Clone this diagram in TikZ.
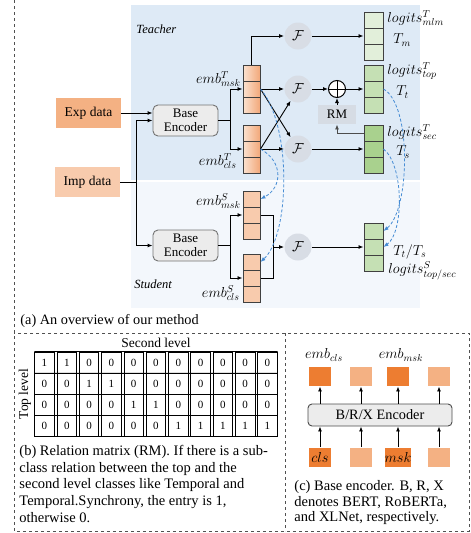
\documentclass[tikz,border=0pt]{standalone}
\usepackage{fontspec}
\setmainfont{Liberation Serif}
\usetikzlibrary{arrows,arrows.meta}
\usetikzlibrary{matrix}
\definecolor{teach}{RGB}{222,234,246}
\definecolor{stud}{RGB}{243,247,252}
\definecolor{expd}{RGB}{244,177,131}
\definecolor{impd}{RGB}{248,203,173}
\definecolor{embL}{RGB}{251,226,208}
\definecolor{embD}{RGB}{242,168,122}
\definecolor{gA}{RGB}{226,239,218}
\definecolor{gB}{RGB}{197,224,180}
\definecolor{gC}{RGB}{169,209,142}
\definecolor{fkreis}{RGB}{216,221,229}
\definecolor{rmbox}{RGB}{214,220,228}
\definecolor{encf}{RGB}{236,236,236}
\definecolor{kdblau}{RGB}{70,140,212}
\definecolor{dorange}{RGB}{237,125,49}
\definecolor{rahmen}{RGB}{80,80,80}

\begin{document}
\begin{tikzpicture}[x=1pt,y=-1pt,line width=0.9pt,
	pf/.style={-{Latex[length=5pt,width=4pt]}},
	kd/.style={kdblau,dash pattern=on 3pt off 2pt,line width=0.8pt,-{Latex[length=5pt,width=4pt]}},
	zelle/.style={draw=black!75,line width=1pt,minimum width=17pt,minimum height=16pt,inner sep=0pt},
	lzelle/.style={zelle,minimum width=19pt},
	enc/.style={draw=black!55,fill=encf,rounded corners=5pt,minimum width=65pt,minimum height=31pt,align=center,inner sep=1pt,font=\fontsize{13}{14.5}\selectfont},
	fk/.style={circle,fill=fkreis,minimum size=27pt,inner sep=0pt,font=\fontsize{15}{15}\selectfont},
	lbl/.style={inner sep=0pt,font=\fontsize{14}{14}\selectfont},
	capt/.style={inner sep=0pt,align=left,font=\fontsize{14.5}{16.6}\selectfont},
	quad/.style={minimum width=22pt,minimum height=19pt,inner sep=0pt,font=\fontsize{14}{14}\selectfont}] %Lehrer oben, Schueler unten
	\useasboundingbox (0,0) rectangle (471,533);
	\fill[teach] (131,5) rectangle (420,180);
	\fill[stud] (131,182) rectangle (420,308);
	\draw[rahmen,dashed,line width=1pt] (14,0) -- (14,531) -- (469,531) -- (469,333) -- (14,333);
	\draw[rahmen,dashed,line width=1pt] (285,333) -- (285,531);
	\node[anchor=west,inner sep=0pt,font=\itshape\fontsize{12.5}{12.5}\selectfont] (teacher) at (136,29) {Teacher};
	\node[anchor=west,inner sep=0pt,font=\itshape\fontsize{12.5}{12.5}\selectfont] (student) at (134,284) {Student};
	
	\node[fill=expd,minimum width=65pt,minimum height=30pt,font=\fontsize{13.5}{13.5}\selectfont] (exp) at (88.5,113) {Exp data};
	\node[fill=impd,minimum width=65pt,minimum height=30pt,font=\fontsize{13.5}{13.5}\selectfont] (imp) at (87.5,182) {Imp data};
	\node[enc] (encT) at (185.5,120.5) {Base\\Encoder};
	\node[enc] (encS) at (185.5,245.5) {Base\\Encoder};
	\draw[pf] (exp.east) -- (exp.east -| encT.west);
	\draw (imp.east) -- (136,182) coordinate (j);
	\draw[pf] (j) |- (encT.west);
	\draw[pf] (j) |- (encS.west);
	
	\node[zelle,left color=embL,right color=embD] (mT1) at (251.5,73) {};
	\node[zelle,left color=embL,right color=embD] (mT2) at (251.5,89) {};
	\node[zelle,left color=embL,right color=embD] (mT3) at (251.5,105) {};
	\node[zelle,left color=embL,right color=embD] (cT1) at (251.5,133) {};
	\node[zelle,left color=embL,right color=embD] (cT2) at (251.5,149) {};
	\node[zelle,left color=embL,right color=embD] (cT3) at (251.5,165) {};
	\node[zelle,fill=impd] (mS1) at (251.5,199) {};
	\node[zelle,fill=impd] (mS2) at (251.5,215) {};
	\node[zelle,fill=impd] (mS3) at (251.5,231) {};
	\node[zelle,fill=impd] (cS1) at (251.5,262) {};
	\node[zelle,fill=impd] (cS2) at (251.5,278) {};
	\node[zelle,fill=impd] (cS3) at (251.5,294) {};
	\node[lbl,anchor=east] (emT) at (241,79) {$emb^T_{msk}$};
	\node[lbl,anchor=east] (ecT) at (237,161) {$emb^T_{cls}$};
	\node[lbl,anchor=east] (emS) at (241,201) {$emb^S_{msk}$};
	\node[lbl,anchor=east] (ecS) at (240,293) {$emb^S_{cls}$};
	
	\draw (encT.east) -- (230,120.5) coordinate (sT);
	\draw[pf] (sT) |- (mT2.west);
	\draw[pf] (sT) |- (cT2.west);
	\draw (encS.east) -- (230,245.5) coordinate (sS);
	\draw[pf] (sS) |- (mS2.west);
	\draw[pf] (sS) |- (cS2.west);
	
	\node[fk] (F1) at (298,36) {$\mathcal{F}$};
	\node[fk] (F2) at (298,89) {$\mathcal{F}$};
	\node[fk] (F3) at (298,149) {$\mathcal{F}$};
	\node[fk] (F4) at (298,247) {$\mathcal{F}$};
	\draw[pf] (mT1.north) |- (F1.west);
	\draw[pf] (mT2.east) -- (F2.west);
	\draw[pf] (cT2.east) -- (F3.west);
	\draw[pf] (mT2.east) -- (F3);
	\draw[pf] (cT2.east) -- (F2);
	\draw (mS2.east) -- (273,215) coordinate (mr);
	\draw (cS2.east) -| (mr);
	\draw[pf] (mr |- F4) -- (F4.west);
	
	\node[lzelle,fill=gA] (lm1) at (373.5,20) {};
	\node[lzelle,fill=gA] (lm2) at (373.5,36) {};
	\node[lzelle,fill=gA] (lm3) at (373.5,52) {};
	\node[lzelle,fill=gB] (lt1) at (373.5,73) {};
	\node[lzelle,fill=gB] (lt2) at (373.5,89) {};
	\node[lzelle,fill=gB] (lt3) at (373.5,105) {};
	\node[lzelle,fill=gC] (ls1) at (373.5,133) {};
	\node[lzelle,fill=gC] (ls2) at (373.5,149) {};
	\node[lzelle,fill=gC] (ls3) at (373.5,165) {};
	\node[lzelle,fill=gB] (lS1) at (373.5,231) {};
	\node[lzelle,fill=gB] (lS2) at (373.5,247) {};
	\node[lzelle,fill=gB] (lS3) at (373.5,263) {};
	\node[lbl,anchor=west] (lgm) at (387,18) {$logits^T_{mlm}$};
	\node[lbl,anchor=west] (Tm) at (393,40) {$T_m$};
	\node[lbl,anchor=west] (lgt) at (387,71) {$logits^T_{top}$};
	\node[lbl,anchor=west] (Tt) at (396,92) {$T_t$};
	\node[lbl,anchor=west] (lgs) at (387,132) {$logits^T_{sec}$};
	\node[lbl,anchor=west] (Ts) at (396,152) {$T_s$};
	\node[lbl,anchor=west] (TtTs) at (393,252) {$T_t/T_s$};
	\node[lbl,anchor=west] (lgS) at (388,271) {$logits^S_{top/sec}$};
	
	\node[draw,circle,fill=white,minimum size=17pt,inner sep=0pt,line width=1pt] (op) at (337,89) {};
	\draw[line width=1pt] (op.north) -- (op.south) (op.west) -- (op.east);
	\node[fill=rmbox,minimum width=38pt,minimum height=19pt,font=\fontsize{13}{13}\selectfont] (RM) at (337,114.5) {RM};
	\draw[pf] (F1.east) -- (lm2.west);
	\draw[pf] (F2.east) -- (op.west);
	\draw[pf] (op.east) -- (lt2.west);
	\draw[pf] (RM.north) -- (op.south);
	\draw[pf,black!70] (ls1.west) -| (RM.south);
	\draw[pf] (F3.east) -- (ls2.west);
	\draw[pf] (F4.east) -- (lS2.west);
	
	\draw[kd] (mT2.east) .. controls (292,125) and (290,235) .. (cS1.east);
	\draw[kd] (cT2.east) .. controls (284,162) and (282,188) .. (mS1.east);
	\draw[kd] (lt2.east) .. controls (412,105) and (410,210) .. (lS1.east);
	\draw[kd] (ls2.east) .. controls (404,165) and (404,232) .. (lS2.east);
	
	\node[capt,anchor=west,font=\fontsize{14.3}{14.3}\selectfont] (capa) at (20,321) {(a) An overview of our method};
	
	\node[font=\fontsize{13.5}{13.5}\selectfont,inner sep=0pt] (zweit) at (156,343) {Second level};
	\node[font=\fontsize{13.5}{13.5}\selectfont,inner sep=0pt,rotate=90] (oben) at (25,394) {Top level};
	\matrix (rm) [matrix of nodes,column sep=1.9pt,row sep=-0.8pt,
		nodes={draw,line width=0.8pt,minimum width=19.6pt,minimum height=21pt,inner sep=0pt,font=\fontsize{11}{11}\selectfont}] at (156,394) {
		1 & 1 & 0 & 0 & 0 & 0 & 0 & 0 & 0 & 0 & 0 \\
		0 & 0 & 1 & 1 & 0 & 0 & 0 & 0 & 0 & 0 & 0 \\
		0 & 0 & 0 & 0 & 1 & 1 & 0 & 0 & 0 & 0 & 0 \\
		0 & 0 & 0 & 0 & 0 & 0 & 1 & 1 & 1 & 1 & 1 \\
	};
	\draw[line width=0.8pt] (rm-1-1.north west) -- (rm-1-11.north east);
	\draw[line width=0.8pt] (rm-1-1.south west) -- (rm-1-11.south east);
	\draw[line width=0.8pt] (rm-2-1.south west) -- (rm-2-11.south east);
	\draw[line width=0.8pt] (rm-3-1.south west) -- (rm-3-11.south east);
	\draw[line width=0.8pt] (rm-4-1.south west) -- (rm-4-11.south east);
	\node[capt,anchor=north west] (capb) at (19,445) {(b) Relation matrix (RM). If there is a sub-\\class relation between the top and the\\second level classes like Temporal and\\Temporal.Synchrony, the entry is 1,\\otherwise 0.};
	
	\node[draw=black!70,fill=encf,rounded corners=4pt,minimum width=144pt,minimum height=22pt,inner sep=0pt,font=\fontsize{14.3}{14.3}\selectfont] (bre) at (380,415) {B/R/X Encoder};
	\node[quad,fill=dorange] (e1) at (320,376.5) {};
	\node[quad,fill=expd] (e2) at (361,376.5) {};
	\node[quad,fill=dorange] (e3) at (398,376.5) {};
	\node[quad,fill=expd] (e4) at (439,376.5) {};
	\node[quad,fill=dorange] (t1) at (320,457) {$cls$};
	\node[quad,fill=expd] (t2) at (361,457) {};
	\node[quad,fill=dorange] (t3) at (398,457) {$msk$};
	\node[quad,fill=expd] (t4) at (439,457) {};
	\node[lbl] (ecls) at (324,355) {$emb_{cls}$};
	\node[lbl] (emsk) at (401,355) {$emb_{msk}$};
	\draw[pf] (bre.north -| e1) -- (e1.south);
	\draw[pf] (bre.north -| e2) -- (e2.south);
	\draw[pf] (bre.north -| e3) -- (e3.south);
	\draw[pf] (bre.north -| e4) -- (e4.south);
	\draw[pf] (t1.north) -- (t1.north |- bre.south);
	\draw[pf] (t2.north) -- (t2.north |- bre.south);
	\draw[pf] (t3.north) -- (t3.north |- bre.south);
	\draw[pf] (t4.north) -- (t4.north |- bre.south);
	\node[capt,anchor=north west,font=\fontsize{14.5}{15.5}\selectfont] (capc) at (294,480) {(c) Base encoder. B, R, X\\denotes BERT, RoBERTa,\\and XLNet, respectively.};
\end{tikzpicture}
\end{document}
